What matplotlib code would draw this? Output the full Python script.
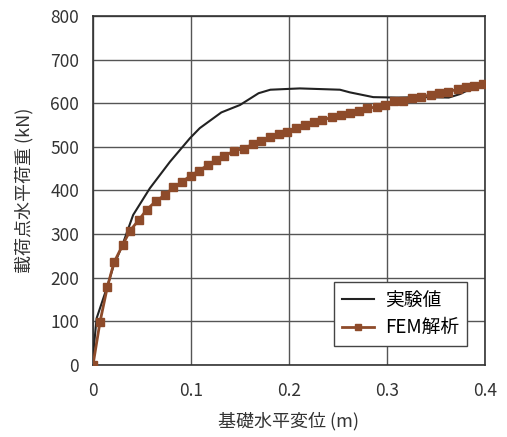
import matplotlib.pyplot as plt

plt.rcParams['font.family'] = ['Noto Sans CJK JP', 'DejaVu Sans']

# 実験値 (experiment)
exp_x = [0.0, 0.0037, 0.014, 0.0207, 0.030, 0.041, 0.058, 0.0786, 0.099, 0.109,
         0.131, 0.150, 0.169, 0.181, 0.191, 0.211, 0.252, 0.262, 0.286, 0.310,
         0.340, 0.363, 0.3745, 0.39, 0.398]
exp_y = [20, 107, 176, 225, 275, 344, 405, 466, 520, 543,
         579, 596, 623, 631, 632, 634, 631, 625, 614, 613,
         614, 613, 621, 638, 643]

# FEM解析
fem_x = [0.0, 0.0072, 0.0146, 0.0214, 0.0303, 0.0378, 0.047, 0.0548, 0.064, 0.0735,
         0.082, 0.091, 0.0997, 0.108, 0.117, 0.1255, 0.134, 0.1436, 0.1538, 0.163,
         0.171, 0.181, 0.190, 0.198, 0.207, 0.216, 0.2255, 0.234, 0.2435, 0.2527,
         0.262, 0.271, 0.280, 0.2895, 0.298, 0.307, 0.316, 0.326, 0.335, 0.345,
         0.353, 0.362, 0.372, 0.381, 0.389, 0.398]
fem_y = [0, 99, 178, 235, 275, 308, 333, 356, 375, 390,
         407, 420, 434, 445, 458, 469, 478, 491, 496, 506,
         513, 522, 529, 535, 543, 549, 556, 561, 568, 572,
         578, 583, 588, 592, 597, 604, 605, 611, 615, 619,
         624, 626, 632, 637, 640, 643]

fig = plt.figure(figsize=(5.07, 4.37), dpi=100)
ax = fig.add_axes([0.1834, 0.1648, 0.7732, 0.7986])

ax.plot(exp_x, exp_y, color='#222222', lw=1.5, label='実験値', zorder=3)
ax.plot(fem_x, fem_y, color='#8E4B2A', lw=2, marker='s', markersize=5.5,
        label='FEM解析', zorder=4)

ax.set_xlim(0, 0.4)
ax.set_ylim(0, 800)
ax.set_xticks([0, 0.1, 0.2, 0.3, 0.4])
ax.set_xticklabels(['0', '0.1', '0.2', '0.3', '0.4'])
ax.set_yticks(range(0, 801, 100))
ax.grid(True, color='#555555', lw=1)
ax.set_axisbelow(True)
ax.tick_params(length=0, labelsize=12.5, colors='#333333')
ax.tick_params(axis='x', pad=12)
ax.tick_params(axis='y', pad=10)
for s in ax.spines.values():
    s.set_color('#333333')
    s.set_linewidth(1.2)

ax.set_xlabel('基礎水平変位 (m)', fontsize=13, color='#333333', labelpad=9)
ax.set_ylabel('載荷点水平荷重 (kN)', fontsize=13, color='#333333', labelpad=12)

leg = ax.legend(loc='lower right', bbox_to_anchor=(0.977, 0.028), fontsize=13.5,
                fancybox=False, edgecolor='#444444', framealpha=1, numpoints=1,
                markerscale=0.8, handlelength=1.7, handletextpad=0.6,
                borderpad=0.4, labelspacing=0.35)
leg.get_frame().set_linewidth(1)

fig.savefig('out.png', dpi=100)
